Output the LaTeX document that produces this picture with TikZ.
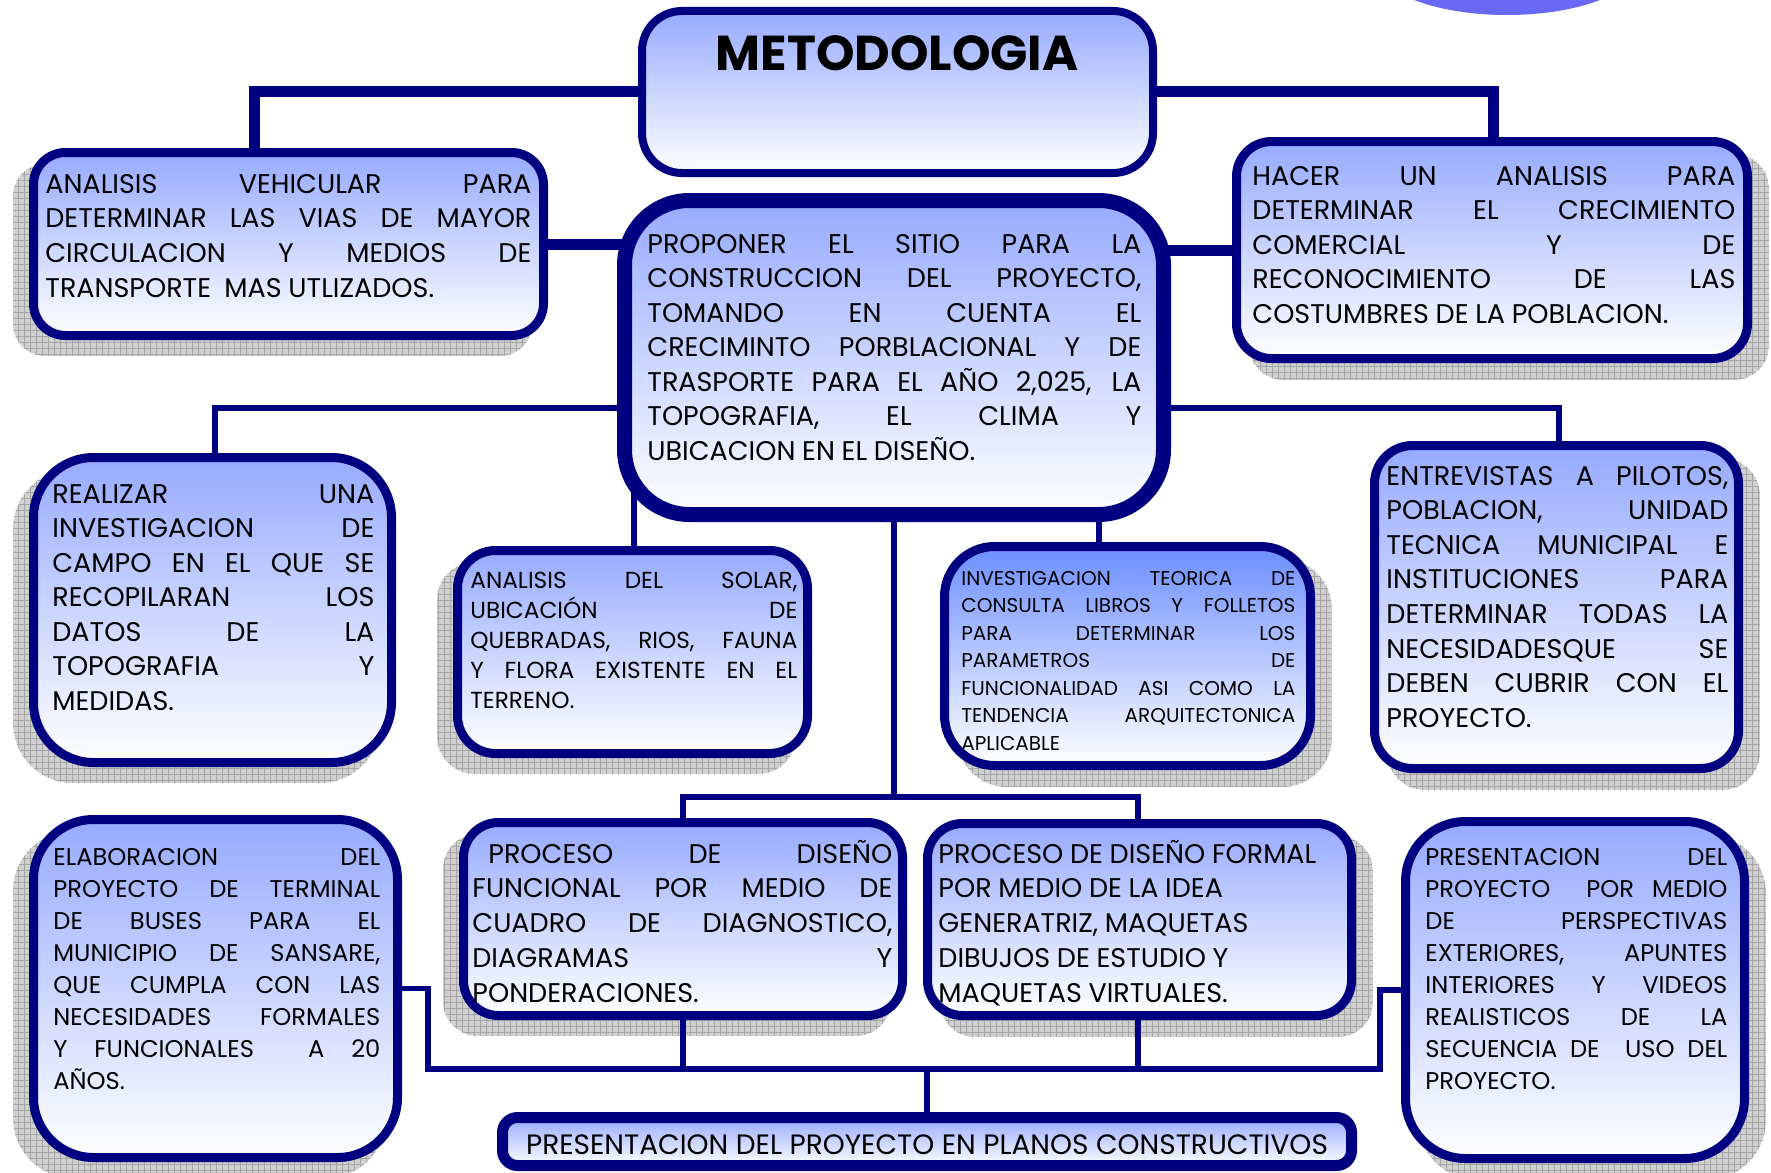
\documentclass[tikz,border=0pt]{standalone}
\usepackage{fontspec}
\setmainfont{Poppins}
\usetikzlibrary{calc}
\definecolor{navy}{RGB}{0,0,128}
\definecolor{boxtop}{RGB}{150,170,255}
\definecolor{boxtopF}{RGB}{108,142,255}
\definecolor{shfill}{RGB}{208,208,208}
\definecolor{shgrid}{RGB}{165,165,165}
\definecolor{glow}{RGB}{105,105,245}
\pgfdeclarelayer{background}
\pgfsetlayers{background,main}
\pgfdeclareradialshading{glowshade}{\pgfpoint{0bp}{0bp}}{color(0bp)=(glow); color(32bp)=(glow); color(40bp)=(glow!40!white); color(48bp)=(white); color(50bp)=(white)}

\newcommand\jl[1]{\makebox[\hsize][s]{\spaceskip=0.26em plus 1fil\relax #1}\par}
\newcommand\setf[2]{\fontsize{#1}{#2}\selectfont\parindent=0pt\parskip=0pt}

% \mkbox[style]{name}{x1}{y1}{x2}{y2}{line width px}{radius px}
\newcommand\mkbox[8][]{%
  \pgfmathsetmacro\bcx{(#3+#5)/2}%
  \pgfmathsetmacro\bcy{(#4+#6)/2}%
  \pgfmathsetmacro\bw{(#5-#3-#7)*0.5}%
  \pgfmathsetmacro\bh{(#6-#4-#7)*0.5}%
  \pgfmathsetmacro\blw{#7*0.5}%
  \pgfmathsetmacro\brc{#8*0.5}%
  \node[boxstyle, line width=\blw pt, rounded corners=\brc pt,
        minimum width=\bw pt, minimum height=\bh pt, #1] (#2) at (\bcx,\bcy) {};}

% \shad{node}{dx}{dy}{radius px}
\newcommand\shad[4]{%
  \begin{scope}
    \pgfmathsetmacro\src{#4*0.5}%
    \path[clip, rounded corners=\src pt] ([shift={(#2,#3)}]#1.south west) rectangle ([shift={(#2,#3)}]#1.north east);
    \fill[shfill] ([shift={(#2,#3)}]#1.south west) rectangle ([shift={(#2,#3)}]#1.north east);
    \draw[shgrid, line width=0.35pt, step=3pt] ([shift={(#2,#3)}]#1.south west) grid ([shift={(#2,#3)}]#1.north east);
  \end{scope}}

\tikzset{
  boxstyle/.style={rectangle, draw=navy, top color=boxtop, bottom color=white, inner sep=0pt},
  thickconn/.style={draw=navy, line width=5.5pt},
  thinconn/.style={draw=navy, line width=3pt},
  botconn/.style={draw=navy, line width=2.6pt},
  txt/.style={inner sep=0pt, anchor=base west, text width=#1, align=left, text=black},
}

\begin{document}
\begin{tikzpicture}[x=0.5pt,y=-0.5pt]
\useasboundingbox (0,0) rectangle (1771,1172);

% boxes
\mkbox{M}{638}{7}{1157}{177}{8}{40}
\mkbox{Ctr}{617}{193}{1171}{522}{15}{65}
\mkbox{A}{29}{148}{548}{340}{9}{32}
\mkbox{C}{1232}{137}{1752}{363}{9}{35}
\mkbox{D}{29}{453}{396}{767}{9}{60}
\mkbox{E}{453}{546}{812}{758}{9}{38}
\mkbox[top color=boxtopF]{F}{940}{542}{1315}{770}{9}{50}
\mkbox{G}{1370}{441}{1743}{773}{9}{38}
\mkbox{H}{29}{815}{402}{1162}{9}{60}
\mkbox{I}{459}{818}{907}{1020}{9}{35}
\mkbox{J}{923}{819}{1356}{1020}{9}{35}
\mkbox{K}{1401}{817}{1749}{1163}{9}{60}
\mkbox{L}{497}{1112}{1357}{1171}{11}{15}

\coordinate (xA) at (254,0);
\coordinate (xC) at (1493,0);
\coordinate (xD) at (215,0);
\coordinate (xG) at (1559,0);
\coordinate (xE) at (634,0);
\coordinate (xF) at (1099,0);
\coordinate (xI) at (683,0);
\coordinate (xJ) at (1138,0);
\coordinate (xHb) at (428,0);
\coordinate (xKb) at (1380,0);
\coordinate (xL) at (927,0);
\coordinate (yDG) at (0,408);
\coordinate (yIJ) at (0,797);
\coordinate (ybot) at (0,1069);

\begin{pgfonlayer}{background}
  \fill[white] (0,0) rectangle (1771,1172);
  \begin{scope}
    \clip (0,0) rectangle (1771,1172);
    \shade[shading=glowshade] (1507,-35) ellipse [x radius=65pt, y radius=25pt];
  \end{scope}
  \shad{A}{-16}{16}{32}
  \shad{D}{-16}{16}{60}
  \shad{E}{-16}{16}{38}
  \shad{H}{-16}{16}{60}
  \shad{I}{-16}{16}{35}
  \shad{C}{17}{17}{35}
  \shad{F}{17}{17}{50}
  \shad{G}{17}{17}{38}
  \shad{J}{17}{17}{35}
  \shad{K}{17}{17}{60}
  % thick connectors
  \draw[thickconn] (M.center) -| (xA |- A.center);
  \draw[thickconn] (M.center) -| (xC |- C.center);
  \draw[thickconn] (A.center) -- (Ctr.center |- A.center);
  \draw[thickconn] (C.center) -- (Ctr.center |- C.center);
  % thin connectors
  \draw[thinconn] (Ctr.center |- yDG) -| (xD |- D.center);
  \draw[thinconn] (Ctr.center |- yDG) -| (xG |- G.center);
  \draw[thinconn] (xE |- Ctr.center) -- (xE |- E.center);
  \draw[thinconn] (xF |- Ctr.center) -- (xF |- F.center);
  \draw[thinconn] (Ctr.center) -- (Ctr.center |- yIJ);
  \draw[thinconn] (xI |- I.center) -- (xI |- yIJ) -- (xJ |- yIJ) -- (xJ |- J.center);
  % bottom connectors
  \draw[botconn] (H.center) -| (xHb |- ybot) -| (xKb |- K.center) -- (K.center);
  \draw[botconn] (xI |- I.center) -- (xI |- ybot);
  \draw[botconn] (xJ |- J.center) -- (xJ |- ybot);
  \draw[botconn] (xL |- ybot) -- (xL |- L.center);
\end{pgfonlayer}

% texts
\node[inner sep=0pt, anchor=base] (tM) at (897,71) {\fontsize{24.5}{29}\selectfont\bfseries METODOLOGIA};

\node[txt=243pt] (tA) at (45,193) {\setf{13.5}{17.35}%
\jl{ANALISIS VEHICULAR PARA}
\jl{DETERMINAR LAS VIAS DE MAYOR}
\jl{CIRCULACION Y MEDIOS DE}
TRANSPORTE~ MAS UTLIZADOS.\par};

\node[txt=241.5pt] (tC) at (1252,185) {\setf{13.5}{17.25}%
\jl{HACER UN ANALISIS PARA}
\jl{DETERMINAR EL CRECIMIENTO}
\jl{COMERCIAL Y DE}
\jl{RECONOCIMIENTO DE LAS}
COSTUMBRES DE LA POBLACION.\par};

\node[txt=247pt] (tCtr) at (647,253) {\setf{13.5}{17.25}%
\jl{PROPONER EL SITIO PARA LA}
\jl{CONSTRUCCION DEL PROYECTO,}
\jl{TOMANDO EN CUENTA EL}
\jl{CRECIMINTO PORBLACIONAL Y DE}
\jl{TRASPORTE PARA EL AÑO 2,025, LA}
\jl{TOPOGRAFIA, EL CLIMA Y}
UBICACION EN EL DISEÑO.\par};

\node[txt=161pt] (tD) at (52,503) {\setf{13.5}{17.25}%
\jl{REALIZAR UNA}
\jl{INVESTIGACION DE}
\jl{CAMPO EN EL QUE SE}
\jl{RECOPILARAN LOS}
\jl{DATOS DE LA}
\jl{TOPOGRAFIA Y}
MEDIDAS.\par};

\node[txt=163.5pt] (tE) at (470,588) {\setf{11.6}{15.12}%
\jl{ANALISIS DEL SOLAR,}
\jl{UBICACIÓN DE}
\jl{QUEBRADAS, RIOS, FAUNA}
\jl{Y FLORA EXISTENTE EN EL}
TERRENO.\par};

\node[txt=167pt] (tF) at (961,585) {\setf{10}{13.75}%
\jl{INVESTIGACION TEORICA DE}
\jl{CONSULTA LIBROS Y FOLLETOS}
\jl{PARA DETERMINAR LOS}
\jl{PARAMETROS DE}
\jl{FUNCIONALIDAD ASI COMO LA}
\jl{TENDENCIA ARQUITECTONICA}
APLICABLE\par};

\node[txt=171pt] (tG) at (1386,485) {\setf{13.5}{17.3}%
\jl{ENTREVISTAS A PILOTOS,}
\jl{POBLACION, UNIDAD}
\jl{TECNICA MUNICIPAL E}
\jl{INSTITUCIONES PARA}
\jl{DETERMINAR TODAS LA}
\jl{NECESIDADESQUE SE}
\jl{DEBEN CUBRIR CON EL}
PROYECTO.\par};

\node[txt=163.5pt] (tH) at (53,865) {\setf{12.1}{16.07}%
\jl{ELABORACION DEL}
\jl{PROYECTO DE TERMINAL}
\jl{DE BUSES PARA EL}
\jl{MUNICIPIO DE SANSARE,}
\jl{QUE CUMPLA CON LAS}
\jl{NECESIDADES FORMALES}
\jl{Y FUNCIONALES~ A 20}
AÑOS.\par};

\node[txt=210pt] (tI) at (472,863) {\setf{13.5}{17.38}%
\jl{\hspace*{8pt}PROCESO DE DISEÑO}
\jl{FUNCIONAL POR MEDIO DE}
\jl{CUADRO DE DIAGNOSTICO,}
\jl{DIAGRAMAS Y}
PONDERACIONES.\par};

\node[txt=210pt] (tJ) at (938,863) {\setf{13.5}{17.38}%
PROCESO DE DISEÑO FORMAL\par
POR MEDIO DE LA IDEA\par
GENERATRIZ, MAQUETAS\par
DIBUJOS DE ESTUDIO Y\par
MAQUETAS VIRTUALES.\par};

\node[txt=151pt] (tK) at (1425,865) {\setf{12.1}{16.07}%
\jl{PRESENTACION DEL}
\jl{PROYECTO\ \ POR MEDIO}
\jl{DE PERSPECTIVAS}
\jl{EXTERIORES, APUNTES}
\jl{INTERIORES Y VIDEOS}
\jl{REALISTICOS DE LA}
\jl{SECUENCIA DE\ \ USO DEL}
PROYECTO.\par};

\node[inner sep=0pt, anchor=base] (tL) at (927,1154) {\fontsize{14}{17}\selectfont PRESENTACION DEL PROYECTO EN PLANOS CONSTRUCTIVOS};
\end{tikzpicture}
\end{document}
